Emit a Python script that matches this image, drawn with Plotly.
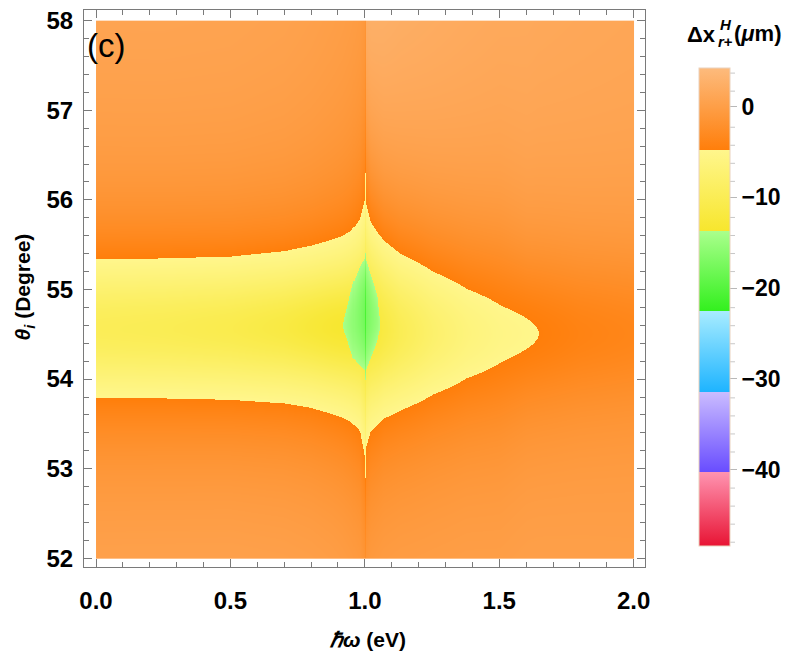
import numpy as np
import plotly.graph_objects as go

# ---------------- values ----------------
# photon energy knots (eV) left of the resonance line at 1 eV
hw_left = [0.0, 0.25, 0.5, 0.7, 0.8, 0.88, 0.918, 0.95, 0.98, 0.997]
up_left = [55.34, 55.35, 55.37, 55.43, 55.49, 55.56, 55.60, 55.66, 55.79, 56.0]   # upper edge of yellow zone
lo_left = [53.79, 53.785, 53.77, 53.73, 53.68, 53.61, 53.57, 53.52, 53.42, 53.15]  # lower edge of yellow zone
pk_left = [-9.7, -10.0, -10.6, -11.6, -12.5, -13.2, -13.4, -13.5, -13.6, -13.6]   # minimum shift (um)
bt_left = [1.5, 1.5, 1.4, 1.2, 1.0, 0.8, 0.7, 0.6, 0.5, 0.4]                      # shift far above
bb_left = [1.5, 1.5, 1.5, 1.4, 1.3, 1.2, 1.1, 1.0, 1.0, 1.0]                      # shift far below

# knots right of the resonance line
hw_right = [1.003, 1.02, 1.05, 1.068, 1.13, 1.254, 1.378, 1.502, 1.602, 1.645, 1.8, 2.0]
up_right = [55.95, 55.75, 55.62, 55.55, 55.40, 55.20, 55.01, 54.83, 54.68, 54.51, np.nan, np.nan]
lo_right = [53.25, 53.42, 53.50, 53.56, 53.65, 53.83, 54.01, 54.18, 54.34, 54.51, np.nan, np.nan]
pk_right = [-13.3, -12.9, -12.2, -11.6, -10.0, -7.8, -6.3, -5.4, -5.0, -4.8, -4.1, -3.6]
bt_right = [5.0, 4.6, 4.2, 4.0, 3.5, 3.0, 2.6, 2.3, 2.1, 2.0, 1.8, 1.6]
bb_right = [1.0, 1.0, 1.0, 1.0, 1.0, 0.9, 0.9, 0.8, 0.8, 0.8, 0.7, 0.6]

# green lens around the resonance (edge of the green zone and its extra depth)
lens_x = [0.918, 0.956, 0.981, 0.997, 1.003, 1.025, 1.044, 1.056]
lens_up = [54.60, 55.08, 55.27, 55.35, 55.33, 55.12, 54.94, 54.60]
lens_lo = [54.60, 54.23, 54.14, 54.10, 54.11, 54.27, 54.42, 54.60]
lens_depth = [0.0, 1.8, 3.0, 4.0, 3.6, 2.3, 1.3, 0.0]

# the resonance line itself (hbar*omega = 1 eV)
line_center, line_up, line_lo = 54.6, 56.1, 52.7
line_pk, line_bt, line_bb = -13.6, 0.4, 1.0
line_lens_up, line_lens_lo, line_lens_depth = 55.41, 53.99, 7.0

# colour bands of the legend (value boundaries) and their colours (bottom, top)
z_min, z_max = -48.4, 4.27
band_edges = [-48.4, -40.3, -31.4, -22.5, -13.7, -4.8, 4.27]
band_colors = [("#E81434", "#FF93B0"),   # red
               ("#684CFF", "#CBBDFF"),   # purple
               ("#1EB4FF", "#A8ECFF"),   # cyan
               ("#33F01E", "#AAFF8C"),   # green
               ("#F7E62D", "#FFF68C"),   # yellow
               ("#FF7E0A", "#FDBB7D")]   # orange

x_ticks = [0.0, 0.5, 1.0, 1.5, 2.0]
y_ticks = [52, 53, 54, 55, 56, 57, 58]
cb_ticks = [0, -10, -20, -30, -40]
cb_minor = [v for v in range(-48, 5, 2) if v % 10 != 0]

# ---------------- build the density grid ----------------
Z_EDGE = band_edges[5]    # orange / yellow boundary
Z_LENS = band_edges[4]    # yellow / green boundary


def knot_widths(up, lo, pk, bt, bb):
    up, lo, pk, bt, bb = map(lambda a: np.asarray(a, float), (up, lo, pk, bt, bb))
    cen = (up + lo) / 2
    hu, hl = up - cen, cen - lo
    with np.errstate(invalid="ignore", divide="ignore"):
        ru = (pk - bt) / (Z_EDGE - bt) - 1
        rl = (pk - bb) / (Z_EDGE - bb) - 1
        wu = hu / np.sqrt(ru)
        wl = hl / np.sqrt(rl)
    bad = ~np.isfinite(wu) | (ru <= 1e-6)
    for arr in (wu, wl, cen):
        last = arr[0]
        for i in range(len(arr)):
            if bad[i] or not np.isfinite(arr[i]):
                arr[i] = last
            else:
                last = arr[i]
    return cen, wu, wl


cenL, wuL, wlL = knot_widths(up_left, lo_left, pk_left, bt_left, bb_left)
cenR, wuR, wlR = knot_widths(up_right, lo_right, pk_right, bt_right, bb_right)
cenR[-3:] = cenR[-4]
_, wuLine, wlLine = knot_widths([line_up], [line_lo], [line_pk], [line_bt], [line_bb])

nx, ny = 537, 540
dx, dy = 2.0 / nx, 6.0 / ny
xs = (np.arange(nx) + 0.5) * dx
ys = 52 + (np.arange(ny) + 0.5) * dy
Z = np.empty((ny, nx))

for j, x in enumerate(xs):
    if abs(x - 1.0) < dx / 2:
        c, wu, wl = line_center, wuLine[0], wlLine[0]
        p, bt, bb = line_pk, line_bt, line_bb
        l_up, l_lo, l_dep = line_lens_up, line_lens_lo, line_lens_depth
    else:
        if x < 1:
            k = hw_left
            c = np.interp(x, k, cenL); wu = np.interp(x, k, wuL); wl = np.interp(x, k, wlL)
            p = np.interp(x, k, pk_left); bt = np.interp(x, k, bt_left); bb = np.interp(x, k, bb_left)
        else:
            k = hw_right
            c = np.interp(x, k, cenR); wu = np.interp(x, k, wuR); wl = np.interp(x, k, wlR)
            p = np.interp(x, k, pk_right); bt = np.interp(x, k, bt_right); bb = np.interp(x, k, bb_right)
        if lens_x[0] < x < lens_x[-1]:
            l_up = np.interp(x, lens_x, lens_up)
            l_lo = np.interp(x, lens_x, lens_lo)
            l_dep = np.interp(x, lens_x, lens_depth)
        else:
            l_up = l_lo = None
    d = ys - c
    above = d >= 0
    u = np.where(above, d / wu, -d / wl)
    L = 1.0 / (1.0 + u ** 2)
    B = np.where(above, bt, bb)
    col = B + (p - B) * L
    if l_up is not None and l_up > l_lo:
        lc, lh = (l_up + l_lo) / 2, (l_up - l_lo) / 2
        s = np.abs(ys - lc) / lh
        col = np.where(s < 1, Z_LENS - 0.1 - l_dep * (1 - s ** 2), col)
    Z[:, j] = col

Z = np.round(Z, 2).astype(np.float32)

# ---------------- colour scale ----------------
colorscale = []
span = z_max - z_min
for (lo_v, hi_v), (c0, c1) in zip(zip(band_edges[:-1], band_edges[1:]), band_colors):
    colorscale.append([max(0.0, (lo_v - z_min) / span), c0])
    colorscale.append([min(1.0, (hi_v - z_min) / span), c1])

# ---------------- layout helpers (pixel -> paper) ----------------
W, H = 806, 661
PL, PR, PT, PB = 84, 645, 7, 567


def px(xp):
    return (xp - PL) / (PR - PL)


def py(yp):
    return (PB - yp) / (PB - PT)


FONT = "Liberation Sans, Arial, sans-serif"
CB_TOP, CB_BOT, CB_LEFT, CB_RIGHT = 68.0, 545.7, 699, 730

fig = go.Figure()
fig.add_trace(go.Heatmap(
    x=xs, y=ys, z=Z, zmin=z_min, zmax=z_max, zsmooth=False,
    colorscale=colorscale, hoverinfo="skip",
    colorbar=dict(
        x=px(CB_LEFT), xanchor="left", xpad=0,
        y=py(CB_BOT), yanchor="bottom", ypad=0,
        lenmode="pixels", len=CB_BOT - CB_TOP,
        thicknessmode="pixels", thickness=CB_RIGHT - CB_LEFT,
        outlinewidth=1, outlinecolor="#ead2bd",
        tickmode="array", tickvals=cb_ticks,
        ticktext=[("\u2212" + str(-v) if v < 0 else str(v)) for v in cb_ticks],
        ticks="outside", ticklen=7, tickcolor="#b8b8b8", tickwidth=1,
        tickfont=dict(family=FONT, size=23, color="black", weight="bold"),
    ),
))

# minor ticks of the colour bar (every 2 units)
for v in cb_minor:
    yy = CB_BOT - (v - z_min) / span * (CB_BOT - CB_TOP)
    fig.add_shape(type="line", xref="paper", yref="paper",
                  x0=px(CB_RIGHT), x1=px(CB_RIGHT + 5), y0=py(yy), y1=py(yy),
                  line=dict(color="#c8c8c8", width=1))

axis_common = dict(
    showline=True, linecolor="#7a7a7a", linewidth=1, mirror="ticks",
    ticks="inside", ticklen=8, tickcolor="#7a7a7a", tickwidth=1,
    showgrid=False, zeroline=False,
    tickfont=dict(family=FONT, size=24, color="black", weight="bold"),
)

fig.update_xaxes(
    range=[-0.0447, 2.042], tickmode="array", tickvals=x_ticks,
    ticktext=[f"{v:.1f}" for v in x_ticks], ticklabelstandoff=12,
    minor=dict(ticks="inside", ticklen=5, dtick=0.1, tick0=0, tickcolor="#7a7a7a", showgrid=False),
    **axis_common)
fig.update_yaxes(
    range=[51.903, 58.119], tickmode="array", tickvals=y_ticks,
    ticktext=[str(v) for v in y_ticks], ticklabelstandoff=5,
    minor=dict(ticks="inside", ticklen=5, dtick=0.2, tick0=52, tickcolor="#7a7a7a", showgrid=False),
    **axis_common)

ann = [
    dict(x=px(85), y=py(43), text="(c)", xanchor="left",
         font=dict(family=FONT, size=33, color="black")),
    dict(x=px(367), y=py(640), text="<b><i>\u210fω</i> (eV)</b>",
         font=dict(family=FONT, size=21, color="black")),
    dict(x=px(24), y=py(286), text="<b><i>θ<sub>i</sub></i> (Degree)</b>", textangle=-90,
         font=dict(family=FONT, size=21, color="black")),
    dict(x=px(685), y=py(32), text="<b>Δx</b>", xanchor="left",
         font=dict(family=FONT, size=22, color="black")),
    dict(x=px(718), y=py(22), text="<b><i>H</i></b>", xanchor="left",
         font=dict(family=FONT, size=15, color="black")),
    dict(x=px(716), y=py(39), text="<b><i>r</i>+</b>", xanchor="left",
         font=dict(family=FONT, size=15, color="black")),
    dict(x=px(732), y=py(31), text="<b>(<i>μ</i>m)</b>", xanchor="left",
         font=dict(family=FONT, size=22, color="black")),
]
for a in ann:
    a.setdefault("xanchor", "center")
    a.update(xref="paper", yref="paper", yanchor="middle", showarrow=False)
fig.update_layout(
    width=W, height=H,
    margin=dict(l=PL, r=W - PR, t=PT, b=H - PB),
    paper_bgcolor="white", plot_bgcolor="white",
    annotations=ann, showlegend=False,
)

fig.write_html("out.html", config={"displayModeBar": False},
               post_script="document.body.style.margin='0';document.body.style.padding='0';")
